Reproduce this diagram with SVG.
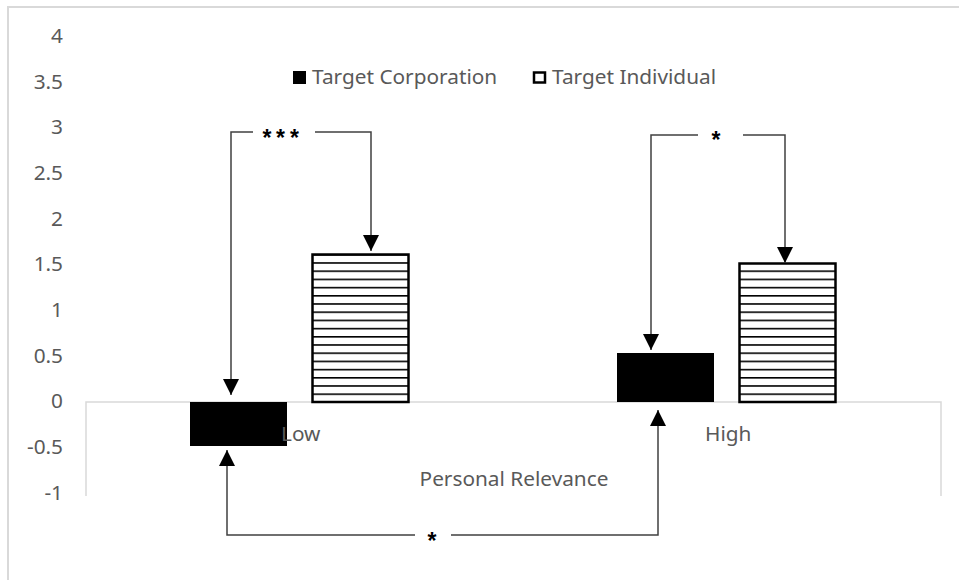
<svg xmlns="http://www.w3.org/2000/svg" width="959" height="580" viewBox="0 0 959 580">
<style>
.lbl{font-family:"Noto Sans","Open Sans","Liberation Sans",sans-serif;font-size:20.8px;fill:#595959}
.ax{text-anchor:end}
.star{font-family:"Liberation Sans","DejaVu Sans",sans-serif;font-size:23px;font-weight:bold;fill:#000}
.frame{fill:none;stroke:#d9d9d9;stroke-width:2}
.grid{fill:none;stroke:#d9d9d9;stroke-width:1.5}
.conn{fill:none;stroke:#404040;stroke-width:1.5}
.hatchbar{fill:url(#hatch);stroke:#000;stroke-width:2.5}
</style>
<defs>
<pattern id="hatch" patternUnits="userSpaceOnUse" x="0" y="254" width="10" height="8.2">
<rect width="10" height="8.2" fill="#fff"/>
<line x1="0" y1="0.8" x2="10" y2="0.8" stroke="#000" stroke-width="1.6"/>
</pattern>
<marker id="arr" viewBox="0 0 16 16" refX="16" refY="8" markerWidth="16" markerHeight="16" markerUnits="userSpaceOnUse" orient="auto">
<path d="M0,0 L16,8 L0,16 Z" fill="#000"/>
</marker>
</defs>
<rect width="959" height="580" fill="#fff"/>
<path class="frame" d="M8,580 V7 H959"/>
<g id="axis">
<path class="grid" d="M86,496 V402 H941 V496"/>
<text class="lbl ax" x="63" y="43">4</text>
<text class="lbl ax" x="63" y="89">3.5</text>
<text class="lbl ax" x="63" y="134">3</text>
<text class="lbl ax" x="63" y="180">2.5</text>
<text class="lbl ax" x="63" y="226">2</text>
<text class="lbl ax" x="63" y="271">1.5</text>
<text class="lbl ax" x="63" y="317">1</text>
<text class="lbl ax" x="63" y="363">0.5</text>
<text class="lbl ax" x="63" y="408">0</text>
<text class="lbl ax" x="63" y="454">-0.5</text>
<text class="lbl ax" x="63" y="500">-1</text>
</g>
<g id="legend">
<rect x="293" y="71" width="13" height="13" fill="#000"/>
<text class="lbl" x="312" y="84">Target Corporation</text>
<rect x="534" y="72.5" width="11" height="10" fill="#fff" stroke="#000" stroke-width="2.5"/>
<text class="lbl" x="552" y="84">Target Individual</text>
</g>
<g id="bar-low-corporation"><rect x="190" y="402" width="97" height="44" fill="#000"/></g>
<g id="bar-low-individual"><rect class="hatchbar" x="312.5" y="254.5" width="96" height="147.5"/></g>
<g id="bar-high-corporation"><rect x="617" y="353" width="97" height="49" fill="#000"/></g>
<g id="bar-high-individual"><rect class="hatchbar" x="739.5" y="263.5" width="96" height="138.5"/></g>
<g id="category-labels">
<text class="lbl" x="281" y="441">Low</text>
<text class="lbl" x="705" y="441">High</text>
<text class="lbl" x="514" y="486" text-anchor="middle">Personal Relevance</text>
</g>
<g id="connectors">
<path class="conn" d="M253,132 H231 V395" marker-end="url(#arr)"/>
<path class="conn" d="M315,132 H371 V251" marker-end="url(#arr)"/>
<path class="conn" d="M698,135 H651 V350" marker-end="url(#arr)"/>
<path class="conn" d="M743,135 H785 V263" marker-end="url(#arr)"/>
<path class="conn" d="M415,535 H227 V450" marker-end="url(#arr)"/>
<path class="conn" d="M451,535 H658 V410" marker-end="url(#arr)"/>
<text class="star" x="262.5 276 290" y="146">***</text>
<text class="star" x="716" y="148" text-anchor="middle">*</text>
<text class="star" x="432" y="549" text-anchor="middle">*</text>
</g>
</svg>
